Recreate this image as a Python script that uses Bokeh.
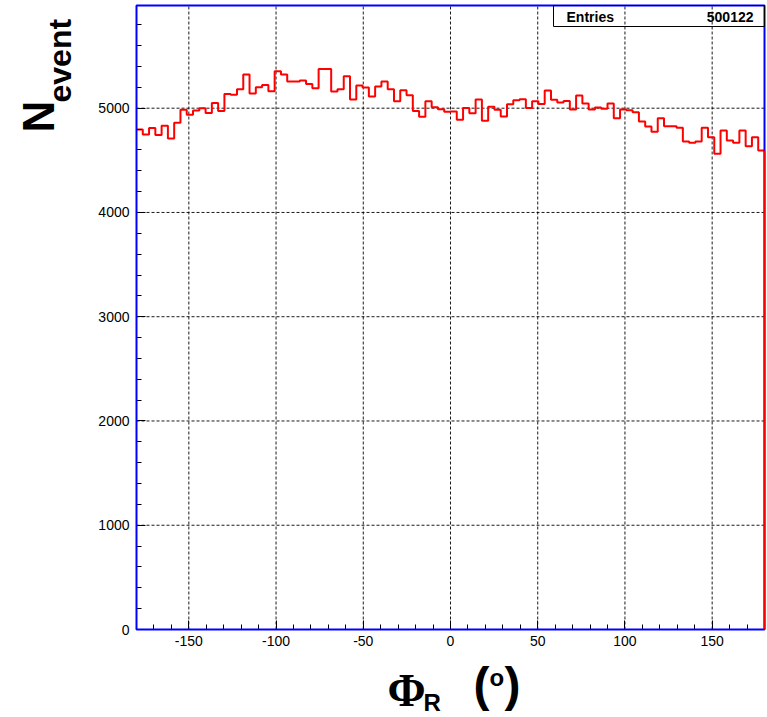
import numpy as np
from bokeh.plotting import figure
from bokeh.models import (FixedTicker, Label, BoxAnnotation, Range1d,
                          LinearAxis, PrintfTickFormatter)
from bokeh.embed import file_html
from bokeh.resources import INLINE

# ---- data -------------------------------------------------------------
phi_lo = -180.0
phi_hi = 180.0
n_bins = 100
counts = [
    4796, 4748, 4809, 4742, 4831, 4710, 4860, 4984, 4936, 4978,
    5000, 4955, 5051, 4974, 5137, 5128, 5182, 5322, 5140, 5201,
    5223, 5163, 5354, 5322, 5255, 5255, 5265, 5233, 5191, 5376,
    5376, 5160, 5182, 5306, 5083, 5217, 5198, 5112, 5207, 5255,
    5182, 5067, 5172, 5124, 4974, 4917, 5067, 5010, 4990, 4965,
    4968, 4888, 5003, 4952, 5083, 4879, 5013, 4984, 4920, 5038,
    5077, 5086, 5003, 5067, 5041, 5169, 5080, 5054, 5070, 4987,
    5121, 5045, 4987, 5006, 4994, 5045, 4904, 4987, 4981, 4962,
    4872, 4824, 4774, 4904, 4828, 4828, 4812, 4681, 4668, 4681,
    4812, 4722, 4563, 4786, 4690, 4668, 4786, 4636, 4722, 4595,
]
x_major = [-150, -100, -50, 0, 50, 100, 150]
x_minor = list(range(-180, 181, 10))
y_major = [0, 1000, 2000, 3000, 4000, 5000]
y_minor = list(range(0, 6000, 200))
y_max = 5985
entries_label = "Entries"
entries_value = "500122"

# ---- layout (pixel box of the histogram frame inside the canvas) -------
W, H = 767, 717
FL, FR, FT, FB = 136, 764, 5, 629
sx = (FR - FL) / (phi_hi - phi_lo)
sy = (FB - FT) / y_max
x_start = phi_lo - FL / sx
x_end = phi_hi + (W - FR) / sx
y_start = -(H - FB) / sy
y_end = y_max + FT / sy
BASE = 0.38  # shift from visual baseline to Bokeh's anchor, in em


def dx(px):
    return x_start + px / sx


def dy(py):
    return y_end - py / sy


edges = np.linspace(phi_lo, phi_hi, n_bins + 1)

p = figure(width=W, height=H,
           x_range=Range1d(x_start, x_end), y_range=Range1d(y_start, y_end),
           output_backend="svg", toolbar_location=None,
           x_axis_location=None, y_axis_location=None,
           min_border=0)
p.background_fill_color = "white"
p.border_fill_color = "white"
p.outline_line_color = None
p.grid.visible = False

# ---- grid (dotted) ---------------------------------------------------
grid_kw = dict(line_color="black", line_dash="3 2", line_width=1, line_alpha=0.9)
p.segment(x0=x_major, y0=[0] * len(x_major), x1=x_major, y1=[y_max] * len(x_major), **grid_kw)
p.segment(x0=[phi_lo] * (len(y_major) - 1), y0=y_major[1:],
          x1=[phi_hi] * (len(y_major) - 1), y1=y_major[1:], **grid_kw)

# ---- axes fixed on the frame edges --------------------------------------
xax = LinearAxis(fixed_location=0, bounds=(phi_lo, phi_hi),
                 ticker=FixedTicker(ticks=x_major, minor_ticks=x_minor),
                 formatter=PrintfTickFormatter(format="%d"))
yax = LinearAxis(fixed_location=phi_lo, bounds=(0, y_max),
                 ticker=FixedTicker(ticks=y_major, minor_ticks=y_minor),
                 formatter=PrintfTickFormatter(format="%d"))
for ax in (xax, yax):
    ax.axis_line_color = None
    ax.major_tick_in = 9
    ax.major_tick_out = 0
    ax.minor_tick_in = 5
    ax.minor_tick_out = 0
    ax.major_tick_line_color = "black"
    ax.minor_tick_line_color = "black"
    ax.major_label_text_font = "Liberation Sans"
    ax.major_label_text_font_size = "14px"
    ax.major_label_text_color = "black"
xax.major_label_standoff = 6
yax.major_label_standoff = 7
p.add_layout(xax, "below")
p.add_layout(yax, "left")

# ---- histogram --------------------------------------------------------
p.step(x=edges, y=np.append(counts, counts[-1]), mode="after",
       line_color="red", line_width=2)

# blue frame
p.add_layout(BoxAnnotation(left=phi_lo, right=phi_hi, bottom=0, top=y_max,
                           fill_alpha=0, line_color="blue", line_alpha=1.0,
                           line_width=2))
# closing edge of the histogram, drawn over the frame
p.segment(x0=[edges[-1]], y0=[0], x1=[edges[-1]], y1=[counts[-1]],
          line_color="red", line_width=2, level="overlay")


def add_text(px, py, text, size, font="Liberation Sans", align="left",
             angle=0.0):
    """Place text whose visual baseline starts at pixel (px, py)."""
    shift = BASE * size
    if angle:
        px = px - shift
    else:
        py = py - shift
    p.add_layout(Label(x=dx(px), y=dy(py), text=text, angle=angle,
                       text_font=font, text_font_style="bold",
                       text_font_size=f"{size}px", text_align=align,
                       text_baseline="alphabetic", text_color="black"))


# ---- stats box -----------------------------------------------------------
p.add_layout(BoxAnnotation(left=dx(553), right=phi_hi, bottom=dy(26), top=y_max,
                           fill_alpha=0, line_color="black", line_alpha=1.0,
                           line_width=1))
add_text(566, 21.7, entries_label, 14)
add_text(753, 21.7, entries_value, 14, align="right")

# ---- y title: N_event (rotated) ----------------------------------------
add_text(55, 132, "N", 44, angle=np.pi / 2)
add_text(72, 102, "event", 32, angle=np.pi / 2)

# ---- x title: Phi_R (o) --------------------------------------------------
add_text(387, 707, "Φ", 46, font="Liberation Serif")
add_text(423, 711, "R", 24)
add_text(473, 702, "(", 48)
add_text(489, 686, "o", 24)
add_text(504, 702, ")", 48)

open("out.html", "w").write(file_html(p, INLINE))
